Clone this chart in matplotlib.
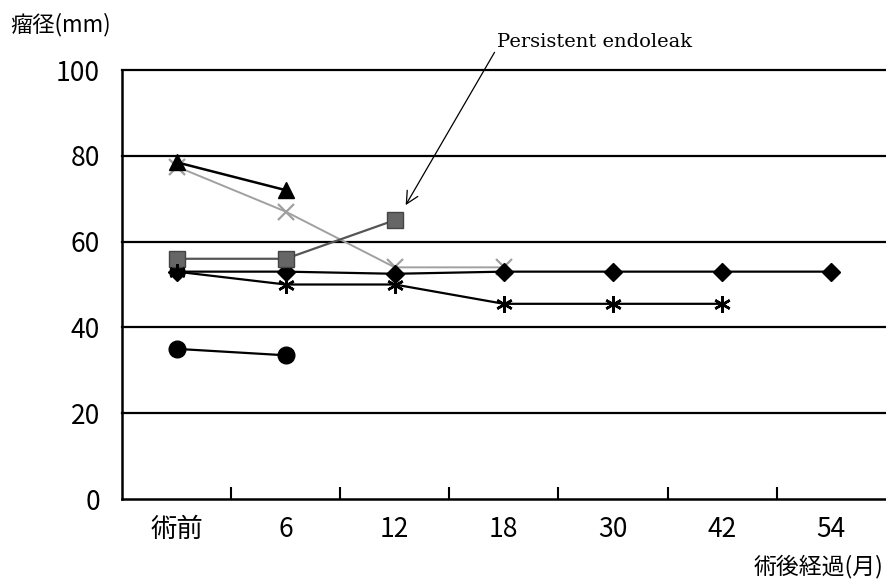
import matplotlib
matplotlib.use('Agg')
import matplotlib.pyplot as plt
import numpy as np

plt.rcParams['font.family'] = ['Noto Sans CJK JP', 'DejaVu Sans']

# ----------------- DATA -----------------
categories = ['術前', '6', '12', '18', '30', '42', '54']

triangle_vals = [78.5, 72]
cross_vals = [77.5, 67, 54, 54]
square_vals = [56, 56, 65]
diamond_vals = [53, 53, 52.5, 53, 53, 53, 53]
star_vals = [53, 50, 50, 45.5, 45.5, 45.5]
circle_vals = [35, 33.5]

yticks = [0, 20, 40, 60, 80, 100]

# ----------------- PLOT -----------------
fig = plt.figure(figsize=(8.86, 5.82), dpi=100)
ax = fig.add_axes([0.1377, 0.1426, 0.862, 0.7371])

x = np.arange(len(categories)) + 0.5

for yv in yticks[1:]:
    ax.axhline(yv, color='black', linewidth=1.6, zorder=1, clip_on=False)

ax.plot(x[:len(diamond_vals)], diamond_vals, color='black', linewidth=1.6,
        marker='D', markersize=9, zorder=3)
ax.plot(x[:len(star_vals)], star_vals, color='black', linewidth=1.6,
        marker=(6, 2, 0), markersize=12, markeredgewidth=1.8, zorder=4)
ax.plot(x[:len(square_vals)], square_vals, color='#555555', linewidth=1.6,
        marker='s', markersize=11, markerfacecolor='#666666',
        markeredgecolor='#444444', zorder=3)
ax.plot(x[:len(cross_vals)], cross_vals, color='#a0a0a0', linewidth=1.4,
        marker='x', markersize=11, markeredgewidth=1.6, zorder=2)
ax.plot(x[:len(triangle_vals)], triangle_vals, color='black', linewidth=1.8,
        marker='^', markersize=12, zorder=3)
ax.plot(x[:len(circle_vals)], circle_vals, color='black', linewidth=1.6,
        marker='o', markersize=12, zorder=3)

ax.set_xlim(0, len(categories))
ax.set_ylim(0, 100)
ax.set_yticks(yticks)
ax.set_xticks(x)
ax.set_xticklabels(categories)
ax.set_xticks(np.arange(1, len(categories)), minor=True)
ax.tick_params(axis='x', which='major', length=0, pad=12, labelsize=19)
ax.tick_params(axis='x', which='minor', direction='in', length=9, width=1.5)
ax.tick_params(axis='y', length=0, pad=16, labelsize=19)

for side in ['top', 'right']:
    ax.spines[side].set_visible(False)
ax.spines['left'].set_linewidth(1.8)
ax.spines['bottom'].set_linewidth(1.8)

ax.annotate('Persistent endoleak', xy=(x[2] + 0.1, 68.5),
            xytext=(x[3] - 0.06, 106.5), textcoords='data',
            fontsize=14, family='DejaVu Serif', annotation_clip=False,
            ha='left', va='center',
            arrowprops=dict(arrowstyle='->', color='black', linewidth=0.9,
                            shrinkA=0, shrinkB=0, mutation_scale=22,
                            relpos=(0, 0.2)))

fig.text(0.012, 0.957, '瘤径(mm)', fontsize=16, ha='left', va='center')
fig.text(0.997, 0.026, '術後経過(月)', fontsize=16.5, ha='right', va='center')

fig.savefig('out.png', dpi=100)
